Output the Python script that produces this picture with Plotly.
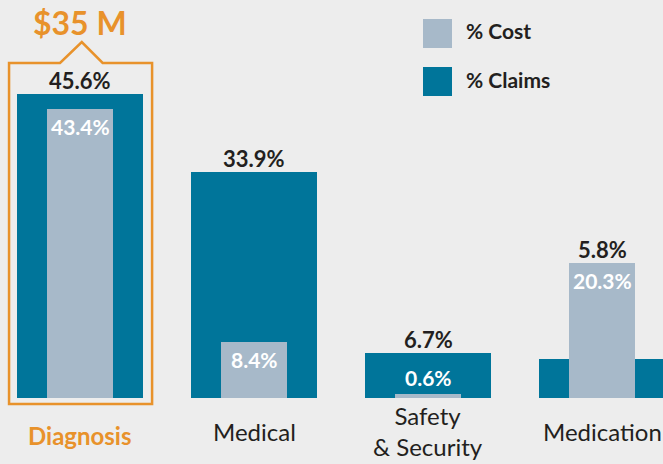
import plotly.graph_objects as go

categories = ["Diagnosis", "Medical", "Safety<br>& Security", "Medication"]
claims = [45.6, 33.9, 6.7, 5.8]
cost = [43.4, 8.4, 0.6, 20.3]
highlight_label = "$35 M"

TEAL = "#00759A"
GREY = "#A7B9C9"
ORANGE = "#E8922B"
DARK = "#231F20"
BG = "#EDEDED"
FONT = "Lato"

W, H = 663, 464
M_B = 66
PLOT_H = H - M_B
X_RANGE = [-0.46, 3.35]
Y_RANGE = [0, 59.7]

fig = go.Figure()
fig.add_trace(go.Bar(x=categories, y=claims, name="% Claims", width=0.724,
                     marker=dict(color=TEAL, line=dict(width=0)), showlegend=False))
fig.add_trace(go.Bar(x=categories, y=cost, name="% Cost", width=0.38,
                     marker=dict(color=GREY, line=dict(width=0)), showlegend=False))

ann = []
for i, c in enumerate(categories):
    top = max(claims[i], cost[i])
    ann.append(dict(x=c, y=top, xref="x", yref="y", text=f"<b>{claims[i]:.1f}%</b>",
                    showarrow=False, yanchor="bottom", yshift=-2,
                    font=dict(family=FONT, size=22, color=DARK)))
    if cost[i] < 3:
        ann.append(dict(x=c, y=cost[i], xref="x", yref="y", text=f"<b>{cost[i]:.1f}%</b>",
                        showarrow=False, yanchor="bottom", yshift=2,
                        font=dict(family=FONT, size=21, color="white")))
    else:
        ann.append(dict(x=c, y=cost[i], xref="x", yref="y", text=f"<b>{cost[i]:.1f}%</b>",
                        showarrow=False, yanchor="top", yshift=-3,
                        font=dict(family=FONT, size=21, color="white")))
    if i == 0:
        ann.append(dict(x=c, y=0, xref="x", yref="y", text=f"<b>{c}</b>",
                        showarrow=False, yanchor="middle", yshift=-37,
                        font=dict(family=FONT, size=24, color=ORANGE)))
    else:
        ann.append(dict(x=c, y=0, xref="x", yref="y", text=c,
                        showarrow=False, yanchor="middle", yshift=-33,
                        font=dict(family=FONT, size=24, color=DARK)))

def px_x(u):
    return (u - X_RANGE[0]) / (X_RANGE[1] - X_RANGE[0])

def py(p):
    return (PLOT_H - p) / PLOT_H

# highlight box with notch around Diagnosis
bx0, bx1 = px_x(-0.408), px_x(0.414)
nx0, nxc, nx1 = px_x(-0.115), px_x(0.01), px_x(0.13)
ytop, ybot, ypk = py(63), py(404), py(42)
path = (f"M {nx0},{ytop} L {bx0},{ytop} L {bx0},{ybot} L {bx1},{ybot} L {bx1},{ytop} "
        f"L {nx1},{ytop} L {nxc},{ypk} Z")
shapes = [dict(type="path", xref="paper", yref="paper", path=path,
               line=dict(color=ORANGE, width=2.5), fillcolor="rgba(0,0,0,0)")]
ann.append(dict(x=px_x(0.0), y=py(23), xref="paper", yref="paper", text=f"<b>{highlight_label}</b>",
                showarrow=False, xanchor="center", yanchor="middle",
                font=dict(family=FONT, size=32, color=ORANGE)))

# custom legend
legend_items = [("% Cost", GREY), ("% Claims", TEAL)]
for k, (lab, col) in enumerate(legend_items):
    y0 = 19 + 48 * k
    shapes.append(dict(type="rect", xref="paper", yref="paper",
                       x0=423 / W, x1=452 / W, y0=py(y0 + 29), y1=py(y0),
                       fillcolor=col, line=dict(width=0)))
    ann.append(dict(x=464 / W, y=py(y0 + 12), xref="paper", yref="paper", text=f"<b>{lab}</b>",
                    showarrow=False, xanchor="left", yanchor="middle",
                    font=dict(family=FONT, size=21, color=DARK)))

fig.update_layout(
    width=W, height=H, margin=dict(l=0, r=0, t=0, b=M_B),
    barmode="overlay", bargap=0,
    paper_bgcolor=BG, plot_bgcolor=BG,
    xaxis=dict(type="category", range=X_RANGE, showticklabels=False, showgrid=False,
               zeroline=False, showline=False, ticks=""),
    yaxis=dict(range=Y_RANGE, visible=False, showgrid=False, zeroline=False),
    annotations=ann, shapes=shapes,
)

fig.write_html("out.html")
